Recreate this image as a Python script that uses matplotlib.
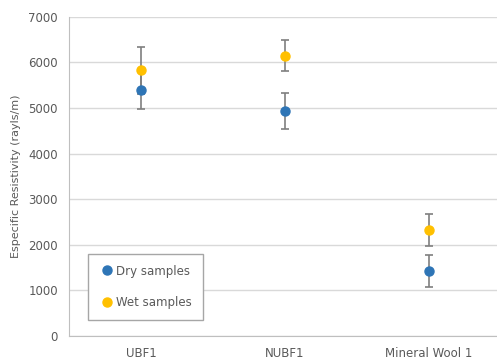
import numpy as np
import matplotlib.pyplot as plt
from matplotlib.lines import Line2D

# Specific resistivity per material, dry vs wet
materials = ['UBF1', 'NUBF1', 'Mineral Wool 1']
dry_mean = [5400, 4930, 1430]
dry_err = [420, 400, 350]
wet_mean = [5830, 6150, 2330]
wet_err = [520, 345, 350]

grey_txt = '#595959'
grid_col = '#d9d9d9'
dry_col = '#2e75b6'
wet_col = '#ffc000'

fig = plt.figure(figsize=(4.97, 3.59), dpi=100)
ax = fig.add_axes([0.139, 0.064, 0.869, 0.889])

x = np.arange(len(materials)) + 0.5

ax.errorbar(x, dry_mean, yerr=dry_err, fmt='o', color=dry_col, ecolor='#7f7f7f',
            elinewidth=1.2, capsize=3, capthick=1.2, markersize=6.5, zorder=3)
ax.errorbar(x, wet_mean, yerr=wet_err, fmt='o', color=wet_col, ecolor='#7f7f7f',
            elinewidth=1.2, capsize=3, capthick=1.2, markersize=6.5, zorder=3)

ax.set_xlim(0, 3)
ax.set_ylim(0, 7000)
ax.set_yticks(range(0, 7001, 1000))
ax.set_xticks(x)
ax.set_xticklabels(materials)
ax.yaxis.grid(True, color=grid_col, linewidth=1)
ax.set_axisbelow(True)

for side in ['top', 'right']:
    ax.spines[side].set_visible(False)
for side in ['left', 'bottom']:
    ax.spines[side].set_color('#bfbfbf')

ax.tick_params(axis='y', length=0, labelsize=8.5, colors=grey_txt, pad=8)
ax.tick_params(axis='x', length=0, labelsize=8.5, colors=grey_txt, pad=8)
ax.set_ylabel('Especific Resistivity (rayls/m)', fontsize=8, color=grey_txt, labelpad=5)

# legend uses plain markers, no error bars
handles = [Line2D([], [], marker='o', linestyle='none', color=dry_col, markersize=6.5),
           Line2D([], [], marker='o', linestyle='none', color=wet_col, markersize=6.5)]
leg = ax.legend(handles, ['Dry samples', 'Wet samples'], loc='lower left',
                bbox_to_anchor=(0.044, 0.05), borderaxespad=0, fontsize=8.5,
                frameon=True, fancybox=False, edgecolor='#a6a6a6', framealpha=1,
                handletextpad=0.1, labelspacing=1.6, borderpad=0.9, handlelength=1.4)
for t in leg.get_texts():
    t.set_color(grey_txt)

fig.savefig('out.png', dpi=100)
